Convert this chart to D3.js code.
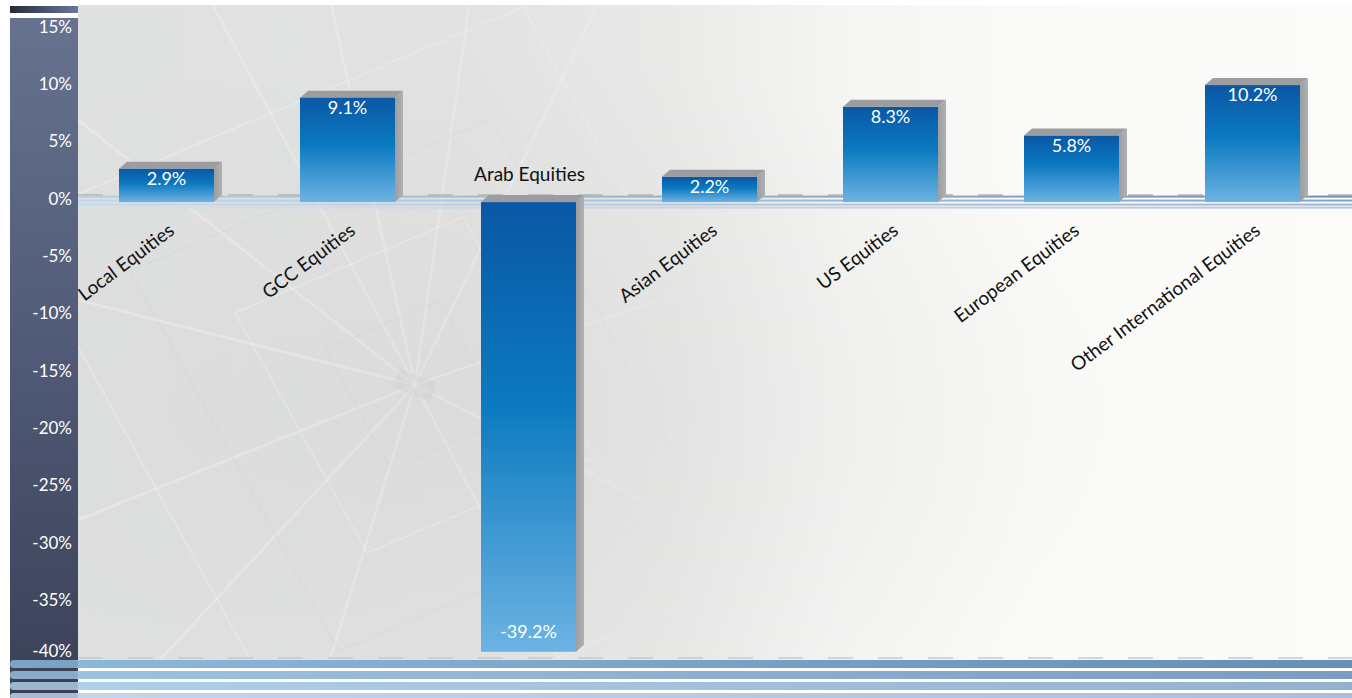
<!DOCTYPE html>
<html>
<head>
<meta charset="utf-8">
<script src="https://cdn.jsdelivr.net/npm/d3@7"></script>
<style>
  html, body { margin: 0; padding: 0; background: #ffffff; overflow: hidden; }
  svg { display: block; font-family: Lato, "Open Sans", sans-serif; }
</style>
</head>
<body>
<svg id="chart" width="1352" height="698"></svg>
<script>
// Annual returns by equity class (%)
const categories = [
  "Local Equities", "GCC Equities", "Arab Equities", "Asian Equities",
  "US Equities", "European Equities", "Other International Equities"
];
const returns = [2.9, 9.1, -39.2, 2.2, 8.3, 5.8, 10.2];
const tickValues = [15, 10, 5, 0, -5, -10, -15, -20, -25, -30, -35, -40];

const W = 1352, H = 698;
const svg = d3.select("#chart");
const defs = svg.append("defs");

const x = d3.scaleBand()
  .domain(categories)
  .range([76, 1343])
  .paddingInner(0.475)
  .paddingOuter(0.2375);
const y = d3.scaleLinear().domain([-40, 15]).range([661, 30]);

const plotLeft = 78, plotBottom = 660;
const pct = v => d3.format(".1f")(v).replace("\u2212", "-") + "%";

// ---------- gradients ----------
function linGrad(id, x1, y1, x2, y2, stops) {
  const g = defs.append("linearGradient").attr("id", id)
    .attr("x1", x1).attr("y1", y1).attr("x2", x2).attr("y2", y2);
  stops.forEach(([o, c, op]) => g.append("stop").attr("offset", o)
    .attr("stop-color", c).attr("stop-opacity", op == null ? 1 : op));
}
linGrad("bg", 0, 0, 1, 0, [[0, "#dfe0e0"], [0.3, "#e2e2e2"], [0.46, "#e9e9e8"], [0.6, "#f5f5f3"], [0.75, "#fafaf8"], [1, "#fbfbf9"]]);
linGrad("texFade", 0, 0, 1, 0, [[0, "#fff", 1], [0.4, "#fff", 0.7], [0.58, "#fff", 0]]);
linGrad("panel", 0, 0, 0, 1, [[0, "#66728f"], [0.5, "#505a76"], [1, "#3a4056"]]);
linGrad("panelTop", 0, 0, 1, 0, [[0, "#252a3b"], [1, "#6b789a"]]);
linGrad("barFront", 0, 0, 0, 1, [[0, "#0a57a5"], [0.45, "#0b7ac0"], [1, "#6db3e3"]]);
linGrad("side", 0, 0, 1, 0, [[0, "#9c9da0"], [1, "#b0b1b3"]]);
const zeroStripeColors = [["#b9cfe2", "#7090b2"], ["#c2d6e8", "#86a5c6"], ["#c8daea", "#9db6d2"], ["#d0e0ee", "#b5c9df"]];
zeroStripeColors.forEach((c, i) => linGrad("zs" + i, 0, 0, 1, 0, [[0, c[0]], [1, c[1]]]));
const baseStripeColors = [["#8cbadd", "#658db6"], ["#9ec4e2", "#789bc3"], ["#b2d0e8", "#93b0d0"], ["#c2d8ec", "#a8bfdc"]];
baseStripeColors.forEach((c, i) => linGrad("bs" + i, 0, 0, 1, 0, [[0, c[0]], [1, c[1]]]));
const shade = defs.append("radialGradient").attr("id", "shade").attr("cx", 0.3).attr("cy", 0.62).attr("r", 0.55);
shade.append("stop").attr("offset", 0).attr("stop-color", "#cfcfcf").attr("stop-opacity", 0.35);
shade.append("stop").attr("offset", 1).attr("stop-color", "#cfcfcf").attr("stop-opacity", 0);

// ---------- plot background ----------
svg.append("rect").attr("x", plotLeft).attr("y", 5)
  .attr("width", W - plotLeft).attr("height", plotBottom - 5).attr("fill", "url(#bg)");
svg.append("rect").attr("x", plotLeft).attr("y", 5)
  .attr("width", W - plotLeft).attr("height", plotBottom - 5).attr("fill", "url(#shade)");

// faint architectural line texture fading to the right
const mask = defs.append("mask").attr("id", "texMask");
mask.append("rect").attr("x", 0).attr("y", 0).attr("width", W).attr("height", H).attr("fill", "url(#texFade)");
const tex = svg.append("g").attr("mask", "url(#texMask)");
const vp = [415, 385];
const rays = [[210, 0], [330, 0], [470, 0], [600, 0], [78, 120], [78, 300], [78, 520], [160, 660], [330, 660], [560, 660], [760, 560], [800, 250]];
rays.forEach(p => tex.append("line")
  .attr("x1", vp[0]).attr("y1", vp[1]).attr("x2", p[0]).attr("y2", p[1])
  .attr("stroke", "#ffffff").attr("stroke-opacity", 0.28).attr("stroke-width", 2.5));
[60, 120, 190, 270].forEach((r, i) => {
  const pts = [[vp[0] - r * 1.5, vp[1] - r * 0.6], [vp[0] + r * 0.4, vp[1] - r * 1.4],
               [vp[0] + r * 1.5, vp[1] + r * 0.6], [vp[0] - r * 0.4, vp[1] + r * 1.4]];
  tex.append("polygon").attr("points", pts.map(p => p.join(",")).join(" "))
    .attr("fill", "none").attr("stroke", i % 2 ? "#ffffff" : "#c8c8c8")
    .attr("stroke-opacity", i % 2 ? 0.3 : 0.2).attr("stroke-width", 1.5);
});
tex.append("rect").attr("x", 395).attr("y", 375).attr("width", 40).attr("height", 20)
  .attr("fill", "#c8c8c8").attr("opacity", 0.35).attr("transform", "rotate(20,415,385)");

// ---------- zero line stripes ----------
const y0 = y(0);
svg.append("line").attr("x1", plotLeft).attr("x2", W).attr("y1", y0 - 7).attr("y2", y0 - 7)
  .attr("stroke", "#b4b4b4").attr("stroke-width", 1.5).attr("stroke-dasharray", "25 25");
[-5.5, -1.5, 2.5, 5.5].forEach((off, i) => svg.append("rect")
  .attr("x", plotLeft).attr("y", y0 + off - 1).attr("width", W - plotLeft).attr("height", 2)
  .attr("fill", "url(#zs" + i + ")"));

// ---------- bars ----------
const dx = 8, dy = 7;
const bars = svg.append("g").selectAll("g")
  .data(categories.map((c, i) => ({ cat: c, v: returns[i] })))
  .join("g");
bars.each(function (d) {
  const g = d3.select(this);
  const x0 = x(d.cat), w = x.bandwidth();
  const top = y(Math.max(d.v, 0)), bot = y(Math.min(d.v, 0));
  g.append("polygon")
    .attr("points", [[x0, top], [x0 + dx, top - dy], [x0 + w + dx, top - dy], [x0 + w, top]].map(p => p.join(",")).join(" "))
    .attr("fill", "#9c9da0");
  g.append("polygon")
    .attr("points", [[x0 + w, top], [x0 + w + dx, top - dy], [x0 + w + dx, bot - dy], [x0 + w, bot]].map(p => p.join(",")).join(" "))
    .attr("fill", "url(#side)");
  g.append("rect").attr("x", x0).attr("y", top).attr("width", w).attr("height", bot - top)
    .attr("fill", "url(#barFront)");
  g.append("text")
    .attr("x", x0 + w / 2)
    .attr("y", d.v >= 0 ? top + 16 : bot - 14)
    .attr("text-anchor", "middle").attr("fill", "#ffffff")
    .attr("font-size", 18).text(pct(d.v));
});

// ---------- category labels ----------
const labels = svg.append("g");
categories.forEach((c, i) => {
  const cx = x(c) + x.bandwidth() / 2;
  if (returns[i] >= 0) {
    labels.append("text")
      .attr("transform", `translate(${cx + 9},${y0 + 31}) rotate(-37)`)
      .attr("text-anchor", "end").attr("fill", "#111").attr("font-size", 19).text(c);
  } else {
    labels.append("text")
      .attr("x", cx + 1).attr("y", y0 - 21)
      .attr("text-anchor", "middle").attr("fill", "#111").attr("font-size", 19).text(c);
  }
});

// ---------- bottom edge ----------
svg.append("line").attr("x1", plotLeft).attr("x2", W).attr("y1", plotBottom - 2).attr("y2", plotBottom - 2)
  .attr("stroke", "#c9c9c9").attr("stroke-width", 1.5).attr("stroke-dasharray", "25 25");

// ---------- left axis panel ----------
svg.append("rect").attr("x", 10).attr("y", 6).attr("width", 68).attr("height", 7).attr("fill", "url(#panelTop)");
svg.append("rect").attr("x", 10).attr("y", 18).attr("width", 68).attr("height", H - 18).attr("fill", "url(#panel)");

[660, 671, 682, 693].forEach((sy, i) => {
  const h = i === 3 ? 6 : 8;
  svg.append("rect").attr("x", 10).attr("y", sy).attr("width", W + 20).attr("height", h)
    .attr("rx", 4).attr("fill", "url(#bs" + i + ")");
  svg.append("rect").attr("x", 10).attr("y", sy).attr("width", 68).attr("height", h)
    .attr("rx", 4).attr("fill", "#3a4056").attr("opacity", 0.18);
});

const yAxis = svg.append("g").attr("transform", "translate(72,0)")
  .call(d3.axisLeft(y).tickValues(tickValues).tickSize(0).tickPadding(0)
    .tickFormat(d => d + "%"));
yAxis.select(".domain").remove();
yAxis.selectAll("text")
  .attr("fill", "#ffffff").attr("font-size", 17).attr("font-family", "Lato, 'Open Sans', sans-serif")
  .attr("dy", null)
  .attr("y", d => Math.min(y(d) + 2, 656) - y(d));
</script>
</body>
</html>
